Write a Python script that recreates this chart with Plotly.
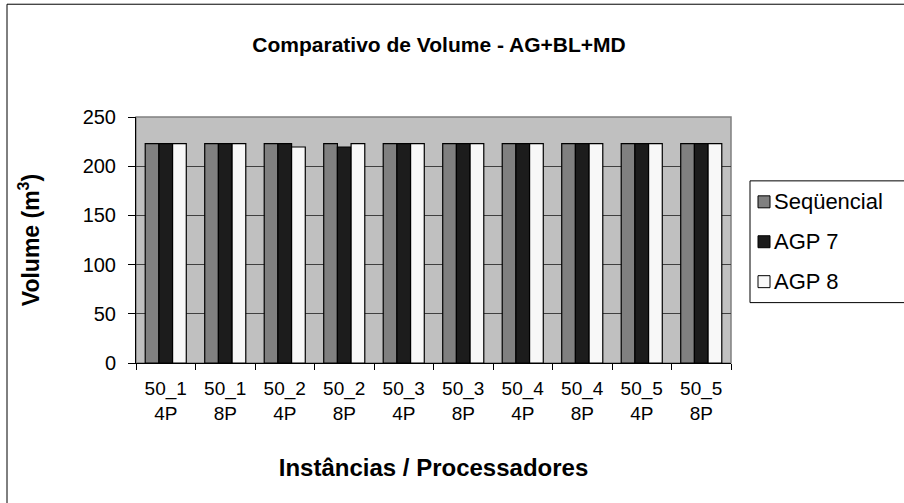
import plotly.graph_objects as go

# Instances / processor count
categorias = ["50_1<br>4P", "50_1<br>8P", "50_2<br>4P", "50_2<br>8P", "50_3<br>4P",
              "50_3<br>8P", "50_4<br>4P", "50_4<br>8P", "50_5<br>4P", "50_5<br>8P"]

# Volume (m3) per approach
sequencial = [223, 223, 223, 223, 223, 223, 223, 223, 223, 223]
agp7 = [223, 223, 223, 219.5, 223, 223, 223, 223, 223, 223]
agp8 = [223, 223, 219.5, 223, 223, 223, 223, 223, 223, 223]

series = [
    ("Seqüencial", sequencial, "#808080"),
    ("AGP 7", agp7, "#1c1c1c"),
    ("AGP 8", agp8, "#f8f8f8"),
]

W, H = 904, 503
L, R, T, B = 136, 731, 117, 363.5
FONT = "Liberation Sans, Arial, sans-serif"


def px(x):
    return (x - L) / (R - L)


def py(y):
    return (B - y) / (B - T)


fig = go.Figure()
for nome, valores, cor in series:
    fig.add_trace(go.Bar(
        x=categorias, y=valores, name=nome,
        marker=dict(color=cor, line=dict(color="#000000", width=1.2)),
        showlegend=False,
    ))

shapes = [
    # outer chart frame
    dict(type="rect", xref="paper", yref="paper",
         x0=px(7), x1=px(W + 20), y0=py(H + 20), y1=py(4),
         line=dict(color="#000000", width=1), fillcolor="rgba(0,0,0,0)", layer="below"),
    # plot-area border
    dict(type="rect", xref="paper", yref="paper", x0=0, x1=1, y0=0, y1=1,
         line=dict(color="#808080", width=1.5), fillcolor="rgba(0,0,0,0)", layer="below"),
    # legend box
    dict(type="rect", xref="paper", yref="paper",
         x0=px(750), x1=px(W + 20), y0=py(303), y1=py(181),
         line=dict(color="#000000", width=1), fillcolor="#ffffff"),
]
annotations = []
for i, (nome, valores, cor) in enumerate(series):
    cy = 202 + 40 * i
    shapes.append(dict(type="rect", xref="paper", yref="paper",
                       x0=px(758), x1=px(770), y0=py(cy + 6), y1=py(cy - 6),
                       line=dict(color="#000000", width=1), fillcolor=cor))
    annotations.append(dict(text=nome, xref="paper", yref="paper",
                            x=px(772), y=py(cy), xanchor="left", yanchor="middle",
                            showarrow=False, font=dict(size=22, color="#000000", family=FONT)))

fig.update_layout(
    width=W, height=H,
    margin=dict(l=L, r=W - R, t=T, b=H - B, pad=0),
    paper_bgcolor="#ffffff",
    plot_bgcolor="#c0c0c0",
    barmode="group",
    bargap=0.31,
    bargroupgap=0,
    font=dict(family=FONT, size=19, color="#000000"),
    title=dict(text="<b>Comparativo de Volume - AG+BL+MD</b>",
               x=439 / W, xanchor="center", y=1 - 45 / H, yanchor="middle",
               font=dict(size=21, family=FONT, color="#000000")),
    xaxis=dict(
        type="category", tickson="boundaries", ticks="outside", ticklen=6,
        tickcolor="#000000", showline=True, linecolor="#000000", linewidth=1,
        showgrid=False, tickfont=dict(size=19), ticklabelstandoff=8,
        title=dict(text="<b>Instâncias / Processadores</b>", standoff=36,
                   font=dict(size=24)),
    ),
    yaxis=dict(
        range=[0, 250], dtick=50, ticks="outside", ticklen=7,
        tickcolor="#000000", showline=True, linecolor="#000000", linewidth=1,
        showgrid=True, gridcolor="#404040", gridwidth=1, zeroline=False,
        tickfont=dict(size=20), ticklabelstandoff=8,
        title=dict(text="<b>Volume (m<sup>3</sup>)</b>", standoff=36,
                   font=dict(size=23)),
    ),
    shapes=shapes,
    annotations=annotations,
)

fig.write_html("out.html")
